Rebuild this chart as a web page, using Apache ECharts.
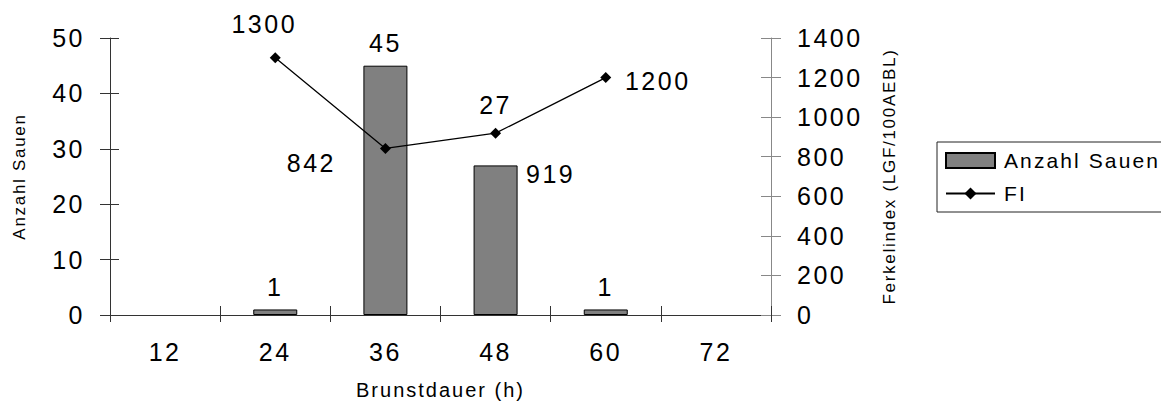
<!DOCTYPE html>
<html>
<head>
<meta charset="utf-8">
<title>Brunstdauer</title>
<script src="https://cdn.jsdelivr.net/npm/echarts@6/dist/echarts.min.js"></script>
<style>
  html, body { margin: 0; padding: 0; background: #fff; }
  #chart { width: 1161px; height: 401px; }
  /* the printed labels are set with a slightly open letter spacing */
  #chart text { letter-spacing: 0.1em; }
</style>
</head>
<body>
<div id="chart"></div>
<script>
// Brunstdauer classes (h)
const categories = ['12', '24', '36', '48', '60', '72'];
// number of sows per class
const sowCounts = [0, 1, 45, 27, 1, 0];
// Ferkelindex (LGF/100AEBL) per class
const farrowingIndex = [null, 1300, 842, 919, 1200, null];
// left axis scale
const countMin = 0, countMax = 50, countStep = 10;
// right axis scale
const fiMin = 0, fiMax = 1400, fiStep = 200;

const FONT = "'Liberation Sans', Arial, Helvetica, sans-serif";

// label placement of the FI values around their markers
const fiLabelOffsets = [null, [-11, -34], [-74, 15], [55, 41], [52, 3], null];
// the bar label of 48 h sits above the FI line
const barLabelDistance = [10, 10, 10, 48, 10, 10];

const chart = echarts.init(document.getElementById('chart'), null, { renderer: 'svg' });

const axisDark = '#333';
const axisGrey = '#888';
const plainNumber = v => String(v);

const option = {
  animation: false,
  backgroundColor: '#fff',
  textStyle: { fontFamily: FONT, color: '#000' },
  grid: { left: 110, right: 390, top: 38, bottom: 86, containLabel: false, outerBoundsMode: 'none' },
  legend: {
    orient: 'vertical',
    left: 937,
    top: 142,
    padding: [8, 80, 8, 8],
    borderColor: '#222',
    borderWidth: 1,
    itemWidth: 49,
    itemHeight: 15,
    itemGap: 12,
    textStyle: { fontFamily: FONT, fontSize: 21, color: '#000', lineHeight: 20, padding: [0, 0, 0, 4] },
    data: [{ name: 'Anzahl Sauen', icon: 'rect' }, { name: 'FI' }]
  },
  xAxis: [
    {
      type: 'category',
      data: categories,
      position: 'bottom',
      axisLine: { show: true, lineStyle: { color: axisDark, width: 1 } },
      axisTick: { show: true, length: 7, lineStyle: { color: axisDark } },
      axisLabel: { fontFamily: FONT, fontSize: 25, color: '#000', margin: 24 },
      splitLine: { show: false },
      name: 'Brunstdauer (h)',
      nameLocation: 'middle',
      nameGap: 65,
      nameMoveOverlap: false,
      nameTextStyle: { fontFamily: FONT, fontSize: 20, color: '#000' }
    },
    {
      // inner half of the category ticks
      type: 'category',
      data: categories,
      position: 'bottom',
      axisLine: { show: false },
      axisTick: { show: true, inside: true, length: 9, lineStyle: { color: axisDark } },
      axisLabel: { show: false },
      splitLine: { show: false }
    }
  ],
  yAxis: [
    {
      type: 'value',
      position: 'left',
      min: countMin, max: countMax, interval: countStep,
      axisLine: { show: true, lineStyle: { color: axisDark } },
      axisTick: { show: true, length: 10, lineStyle: { color: axisDark } },
      axisLabel: { fontFamily: FONT, fontSize: 25, color: '#000', margin: 25, formatter: plainNumber },
      splitLine: { show: false },
      name: 'Anzahl Sauen',
      nameLocation: 'middle',
      nameRotate: 90,
      nameGap: 82,
      nameMoveOverlap: false,
      nameTextStyle: { fontFamily: FONT, fontSize: 17, color: '#000' }
    },
    {
      type: 'value',
      position: 'right',
      min: fiMin, max: fiMax, interval: fiStep,
      axisLine: { show: true, lineStyle: { color: axisGrey } },
      axisTick: { show: true, length: 10, lineStyle: { color: axisGrey } },
      axisLabel: { fontFamily: FONT, fontSize: 25, color: '#000', margin: 26, formatter: plainNumber },
      splitLine: { show: false },
      name: 'Ferkelindex (LGF/100AEBL)',
      nameLocation: 'middle',
      nameRotate: 90,
      nameGap: 110,
      nameMoveOverlap: false,
      nameTextStyle: { fontFamily: FONT, fontSize: 17, color: '#000' }
    },
    {
      // inner half of the left ticks
      type: 'value',
      position: 'left',
      min: countMin, max: countMax, interval: countStep,
      axisLine: { show: false },
      axisTick: { show: true, inside: true, length: 9, lineStyle: { color: axisDark } },
      axisLabel: { show: false },
      splitLine: { show: false }
    },
    {
      // inner half of the right ticks
      type: 'value',
      position: 'right',
      min: fiMin, max: fiMax, interval: fiStep,
      axisLine: { show: false },
      axisTick: { show: true, inside: true, length: 10, lineStyle: { color: axisGrey } },
      axisLabel: { show: false },
      splitLine: { show: false }
    }
  ],
  series: [
    {
      name: 'Anzahl Sauen',
      type: 'bar',
      xAxisIndex: 0,
      yAxisIndex: 0,
      barWidth: 44,
      data: sowCounts.map((v, i) => ({
        value: v,
        itemStyle: v ? {} : { borderWidth: 0, opacity: 0 },
        label: { distance: barLabelDistance[i] }
      })),
      itemStyle: { color: '#808080', borderColor: '#000', borderWidth: 1 },
      label: {
        show: true,
        position: 'top',
        fontFamily: FONT,
        fontSize: 25,
        color: '#000',
        formatter: p => (p.value ? String(p.value) : '')
      }
    },
    {
      name: 'FI',
      type: 'line',
      xAxisIndex: 0,
      yAxisIndex: 1,
      data: farrowingIndex.map((v, i) => (v == null ? '-' : {
        value: v,
        label: { offset: fiLabelOffsets[i] }
      })),
      symbol: 'diamond',
      symbolSize: 11,
      lineStyle: { color: '#000', width: 1.3 },
      itemStyle: { color: '#000' },
      label: {
        show: true,
        position: 'inside',
        fontFamily: FONT,
        fontSize: 25,
        color: '#000'
      }
    }
  ]
};

chart.setOption(option);
</script>
</body>
</html>
